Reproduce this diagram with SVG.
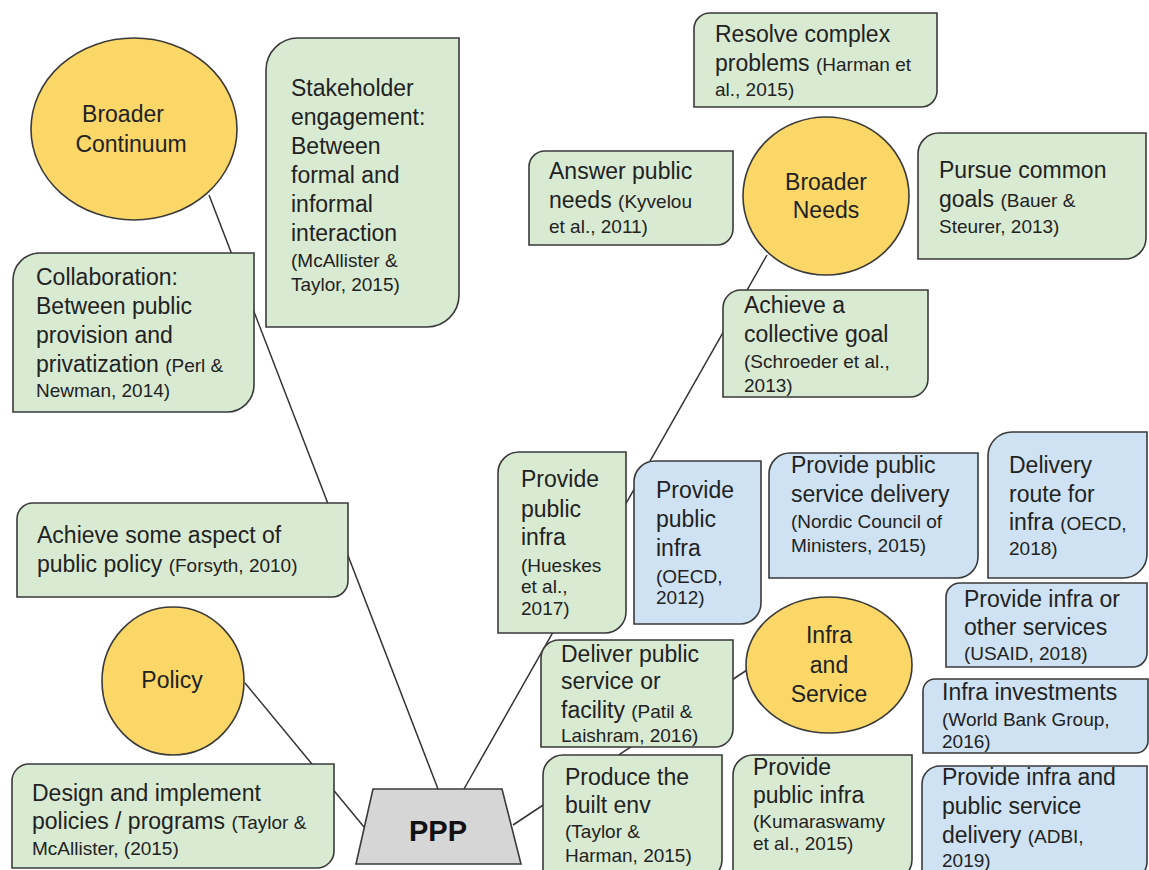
<svg xmlns="http://www.w3.org/2000/svg" width="1149" height="870" viewBox="0 0 1149 870">
  <style>
    .g { fill: #d9ead3; stroke: #3a3a3a; stroke-width: 1.6; }
    .b { fill: #cfe2f3; stroke: #3a3a3a; stroke-width: 1.6; }
    .y { fill: #fbd768; stroke: #3a3a3a; stroke-width: 1.6; }
    .p { fill: #d6d6d6; stroke: #3a3a3a; stroke-width: 1.6; }
    .ln { stroke: #333; stroke-width: 1.5; fill: none; }
    text { font-family: "Liberation Sans", Arial, sans-serif; fill: #222; }
    .m { font-size: 23px; }
    .c { font-size: 19px; }
    .mid { text-anchor: middle; }
  </style>

  <!-- connectors -->
  <g id="connectors">
    <line class="ln" x1="209" y1="195" x2="438" y2="789"/>
    <line class="ln" x1="464" y1="789" x2="767" y2="255"/>
    <line class="ln" x1="245" y1="683" x2="364" y2="827"/>
    <line class="ln" x1="513" y1="825" x2="750" y2="668"/>
  </g>

  <!-- top-left column -->
  <g id="broader-continuum">
    <ellipse class="y" cx="134" cy="129" rx="103" ry="91"/>
    <text class="m mid" x="123" y="122">Broader</text>
    <text class="m mid" x="131" y="152">Continuum</text>
  </g>

  <g id="stakeholder">
    <path class="g" d="M266,70 A32,32 0 0 1 298,38 H459 V295 A32,32 0 0 1 427,327 H266 Z"/>
    <text class="m" x="291" y="96">Stakeholder</text>
    <text class="m" x="291" y="125">engagement:</text>
    <text class="m" x="291" y="154">Between</text>
    <text class="m" x="291" y="183">formal and</text>
    <text class="m" x="291" y="212">informal</text>
    <text class="m" x="291" y="241">interaction</text>
    <text class="c" x="291" y="267">(McAllister &amp;</text>
    <text class="c" x="291" y="291">Taylor, 2015)</text>
  </g>

  <g id="collaboration">
    <path class="g" d="M13,280 A27,27 0 0 1 40,253 H254 V385 A27,27 0 0 1 227,412 H13 Z"/>
    <text class="m" x="36" y="285">Collaboration:</text>
    <text class="m" x="36" y="314">Between public</text>
    <text class="m" x="36" y="343">provision and</text>
    <text class="m" x="36" y="372">privatization <tspan class="c">(Perl &amp;</tspan></text>
    <text class="c" x="36" y="397">Newman, 2014)</text>
  </g>

  <!-- broader needs cluster -->
  <g id="resolve">
    <path class="g" d="M694,29 A16,16 0 0 1 710,13 H937 V91 A16,16 0 0 1 921,107 H694 Z"/>
    <text class="m" x="715" y="42">Resolve complex</text>
    <text class="m" x="715" y="71">problems <tspan class="c">(Harman et</tspan></text>
    <text class="c" x="715" y="96">al., 2015)</text>
  </g>

  <g id="answer">
    <path class="g" d="M529,167 A16,16 0 0 1 545,151 H733 V229 A16,16 0 0 1 717,245 H529 Z"/>
    <text class="m" x="549" y="179">Answer public</text>
    <text class="m" x="549" y="208">needs <tspan class="c">(Kyvelou</tspan></text>
    <text class="c" x="549" y="233">et al., 2011)</text>
  </g>

  <g id="broader-needs">
    <ellipse class="y" cx="826" cy="196" rx="83" ry="79"/>
    <text class="m mid" x="826" y="190">Broader</text>
    <text class="m mid" x="826" y="218">Needs</text>
  </g>

  <g id="pursue">
    <path class="g" d="M918,154 A21,21 0 0 1 939,133 H1146 V238 A21,21 0 0 1 1125,259 H918 Z"/>
    <text class="m" x="939" y="178">Pursue common</text>
    <text class="m" x="939" y="207">goals <tspan class="c">(Bauer &amp;</tspan></text>
    <text class="c" x="939" y="233">Steurer, 2013)</text>
  </g>

  <g id="collective">
    <path class="g" d="M723,308 A18,18 0 0 1 741,290 H928 V379 A18,18 0 0 1 910,397 H723 Z"/>
    <text class="m" x="744" y="313">Achieve a</text>
    <text class="m" x="744" y="342">collective goal</text>
    <text class="c" x="744" y="368">(Schroeder et al.,</text>
    <text class="c" x="744" y="392">2013)</text>
  </g>

  <!-- policy cluster -->
  <g id="aspect">
    <path class="g" d="M17,519 A16,16 0 0 1 33,503 H348 V581 A16,16 0 0 1 332,597 H17 Z"/>
    <text class="m" x="37" y="543">Achieve some aspect of</text>
    <text class="m" x="37" y="572">public policy <tspan class="c">(Forsyth, 2010)</tspan></text>
  </g>

  <g id="policy">
    <ellipse class="y" cx="173" cy="681" rx="71" ry="74"/>
    <text class="m mid" x="172" y="688">Policy</text>
  </g>

  <g id="design">
    <path class="g" d="M12,781 A17,17 0 0 1 29,764 H334 V851 A17,17 0 0 1 317,868 H12 Z"/>
    <text class="m" x="32" y="801">Design and implement</text>
    <text class="m" x="32" y="829">policies / programs <tspan class="c">(Taylor &amp;</tspan></text>
    <text class="c" x="32" y="855">McAllister, (2015)</text>
  </g>

  <!-- infrastructure and service cluster -->
  <g id="hueskes">
    <path class="g" d="M498,473 A21,21 0 0 1 519,452 H626 V612 A21,21 0 0 1 605,633 H498 Z"/>
    <text class="m" x="521" y="487">Provide</text>
    <text class="m" x="521" y="517">public</text>
    <text class="m" x="521" y="545">infra</text>
    <text class="c" x="521" y="572">(Hueskes</text>
    <text class="c" x="521" y="593">et al.,</text>
    <text class="c" x="521" y="615">2017)</text>
  </g>

  <g id="oecd-2012">
    <path class="b" d="M634,482 A21,21 0 0 1 655,461 H761 V603 A21,21 0 0 1 740,624 H634 Z"/>
    <text class="m" x="656" y="498">Provide</text>
    <text class="m" x="656" y="527">public</text>
    <text class="m" x="656" y="556">infra</text>
    <text class="c" x="656" y="583">(OECD,</text>
    <text class="c" x="656" y="604">2012)</text>
  </g>

  <g id="nordic">
    <path class="b" d="M769,474 A21,21 0 0 1 790,453 H978 V557 A21,21 0 0 1 957,578 H769 Z"/>
    <text class="m" x="791" y="473">Provide public</text>
    <text class="m" x="791" y="502">service delivery</text>
    <text class="c" x="791" y="528">(Nordic Council of</text>
    <text class="c" x="791" y="552">Ministers, 2015)</text>
  </g>

  <g id="delivery-route">
    <path class="b" d="M988,456 A24,24 0 0 1 1012,432 H1147 V554 A24,24 0 0 1 1123,578 H988 Z"/>
    <text class="m" x="1009" y="473">Delivery</text>
    <text class="m" x="1009" y="502">route for</text>
    <text class="m" x="1009" y="530">infra <tspan class="c">(OECD,</tspan></text>
    <text class="c" x="1009" y="555">2018)</text>
  </g>

  <g id="usaid">
    <path class="b" d="M946,597 A14,14 0 0 1 960,583 H1147 V653 A14,14 0 0 1 1133,667 H946 Z"/>
    <text class="m" x="964" y="607">Provide infra or</text>
    <text class="m" x="964" y="635">other services</text>
    <text class="c" x="964" y="660">(USAID, 2018)</text>
  </g>

  <g id="deliver">
    <path class="g" d="M541,658 A18,18 0 0 1 559,640 H733 V729 A18,18 0 0 1 715,747 H541 Z"/>
    <text class="m" x="561" y="662">Deliver public</text>
    <text class="m" x="561" y="689">service or</text>
    <text class="m" x="561" y="718">facility <tspan class="c">(Patil &amp;</tspan></text>
    <text class="c" x="561" y="742">Laishram, 2016)</text>
  </g>

  <g id="infra-service">
    <ellipse class="y" cx="829" cy="665" rx="83" ry="68"/>
    <text class="m mid" x="829" y="643">Infra</text>
    <text class="m mid" x="829" y="673">and</text>
    <text class="m mid" x="829" y="702">Service</text>
  </g>

  <g id="world-bank">
    <path class="b" d="M923,691 A12,12 0 0 1 935,679 H1148 V741 A12,12 0 0 1 1136,753 H923 Z"/>
    <text class="m" x="942" y="700">Infra investments</text>
    <text class="c" x="942" y="726">(World Bank Group,</text>
    <text class="c" x="942" y="748">2016)</text>
  </g>

  <g id="produce">
    <path class="g" d="M543,775 A20,20 0 0 1 563,755 H722 V860 A20,20 0 0 1 702,880 H543 Z"/>
    <text class="m" x="565" y="785">Produce the</text>
    <text class="m" x="565" y="813">built env</text>
    <text class="c" x="565" y="838">(Taylor &amp;</text>
    <text class="c" x="565" y="862">Harman, 2015)</text>
  </g>

  <g id="kumaraswamy">
    <path class="g" d="M733,775 A20,20 0 0 1 753,755 H912 V860 A20,20 0 0 1 892,880 H733 Z"/>
    <text class="m" x="753" y="775">Provide</text>
    <text class="m" x="753" y="803">public infra</text>
    <text class="c" x="753" y="828">(Kumaraswamy</text>
    <text class="c" x="753" y="850">et al., 2015)</text>
  </g>

  <g id="adbi">
    <path class="b" d="M922,784 A18,18 0 0 1 940,766 H1147 V862 A18,18 0 0 1 1129,880 H922 Z"/>
    <text class="m" x="942" y="785">Provide infra and</text>
    <text class="m" x="942" y="814">public service</text>
    <text class="m" x="942" y="843">delivery <tspan class="c">(ADBI,</tspan></text>
    <text class="c" x="942" y="867">2019)</text>
  </g>

  <!-- central node -->
  <g id="ppp">
    <polygon class="p" points="373,789 502,789 521,864 356,864"/>
    <text class="mid" x="438" y="841" style="font-size:29px;font-weight:bold;fill:#111">PPP</text>
  </g>
</svg>
